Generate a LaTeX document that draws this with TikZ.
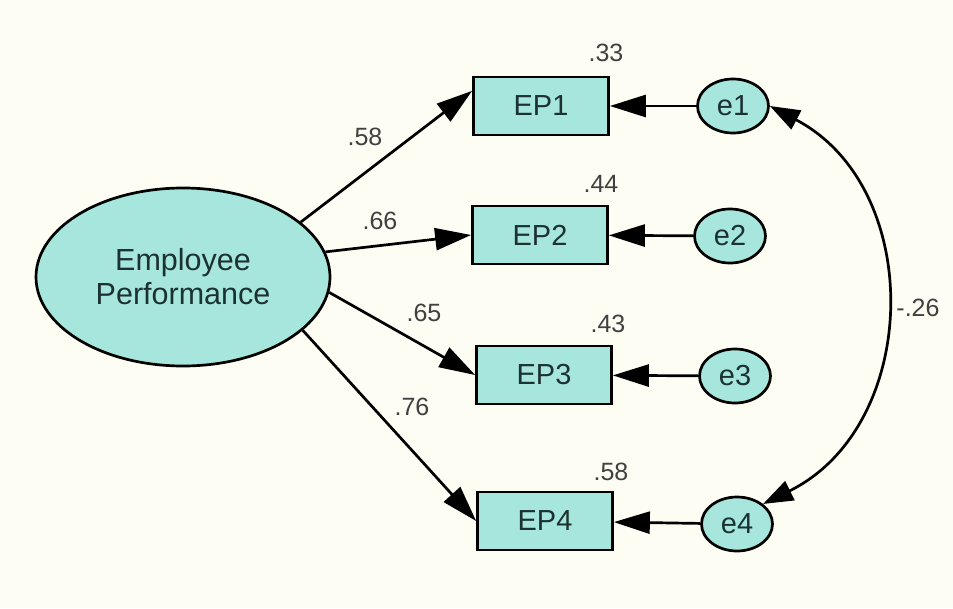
\documentclass[tikz,border=0pt]{standalone}
\usepackage{fontspec}
\setmainfont{Liberation Sans}
\usetikzlibrary{shapes.geometric,arrows.meta,calc}
\definecolor{bg}{RGB}{254,253,243}
\definecolor{nodefill}{RGB}{166,230,220}
\definecolor{nodetext}{RGB}{28,50,50}
\definecolor{numtext}{RGB}{64,64,64}
\begin{document}
\begin{tikzpicture}[x=1pt,y=-1pt,
  latent/.style={ellipse,draw,line width=2.7pt,fill=nodefill,text=nodetext,inner sep=0pt,align=center},
  obs/.style={rectangle,draw,line width=2.7pt,fill=nodefill,text=nodetext,minimum width=135pt,minimum height=58pt,inner sep=0pt,font=\fontsize{29}{32}\selectfont},
  err/.style={ellipse,draw,line width=2.7pt,fill=nodefill,text=nodetext,minimum width=71pt,minimum height=54pt,inner sep=0pt,font=\fontsize{29}{32}\selectfont},
  conn/.style={line width=2.7pt,-{Triangle[length=36pt,width=22pt]}},
  cov/.style={line width=2.7pt,{Triangle[length=30pt,width=21pt]}-{Triangle[length=30pt,width=21pt]}},
  num/.style={text=numtext,font=\fontsize{25}{28}\selectfont,inner sep=0pt}
]
\fill[bg] (0,0) rectangle (953,608);
\useasboundingbox (0,0) rectangle (953,608);

\node[latent,minimum width=294pt,minimum height=178pt,font=\fontsize{30.5}{34}\selectfont] (F) at (183,277) {Employee\\Performance};

\node[obs] (EP1) at (541,106) {EP1};
\node[obs] (EP2) at (540,235) {EP2};
\node[obs] (EP3) at (544,375) {EP3};
\node[obs] (EP4) at (545,521) {EP4};

\node[err] (e1) at (733,106) {e1};
\node[err] (e2) at (730,236) {e2};
\node[err] (e3) at (735,376) {e3};
\node[err] (e4) at (737,524) {e4};

\draw[conn] (F.25.6) -- ($(EP1.north west)!0.25!(EP1.south west)$);
\draw[conn] (F.10) -- (EP2.west);
\draw[conn] (F.-6) -- (EP3.west);
\draw[conn] (F.-24) -- (EP4.west);

\draw[conn] (e1) -- (EP1);
\draw[conn] (e2) -- (EP2);
\draw[conn] (e3) -- (EP3);
\draw[conn] (e4) -- (EP4);

\draw[cov] (e1.east) .. controls +(156,82) and +(158,-78) .. (e4.north east);

\node[num] (r1) at (606,53) {.33};
\node[num] (r2) at (601,184) {.44};
\node[num] (r3) at (608,324) {.43};
\node[num] (r4) at (611,472) {.58};

\node[num] (w1) at (365,137) {.58};
\node[num] (w2) at (380,221) {.66};
\node[num] (w3) at (424,313) {.65};
\node[num] (w4) at (412,407) {.76};

\node[num] (c14) at (918,308) {-.26};
\end{tikzpicture}
\end{document}
